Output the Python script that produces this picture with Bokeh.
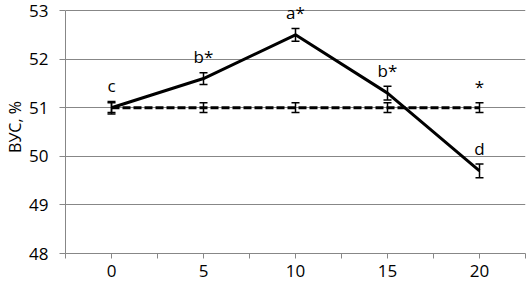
from bokeh.plotting import figure
from bokeh.models import (ColumnDataSource, Range1d, FixedTicker, CustomJSTickFormatter,
                          Whisker, TeeHead)
from bokeh.core.properties import value
from bokeh.embed import file_html
from bokeh.resources import INLINE

# ---- data ----
x_cats = [0, 5, 10, 15, 20]
treat_vals = [51.0, 51.6, 52.5, 51.3, 49.7]
treat_err = [0.13, 0.12, 0.13, 0.14, 0.14]
treat_labels = ["c", "b*", "a*", "b*", "d"]
ctrl_vals = [51.0, 51.0, 51.0, 51.0, 51.0]
ctrl_err = [0.1, 0.1, 0.1, 0.1, 0.1]
ctrl_labels = ["", "", "", "", "*"]
y_ticks = [48, 49, 50, 51, 52, 53]
y_title = "ВУС, %"

FONT = "Open Sans"
GRID = "#878787"

half = (x_cats[1] - x_cats[0]) / 2
x_ticks = sorted(set([v for v in x_cats] + [v - half for v in x_cats] + [x_cats[-1] + half]))

p = figure(width=526, height=287, output_backend="svg", toolbar_location=None,
           x_range=Range1d(x_cats[0] - half, x_cats[-1] + half),
           y_range=Range1d(y_ticks[0], y_ticks[-1] + 0.206),
           min_border_left=65, min_border_right=1, min_border_top=0, min_border_bottom=34)
p.outline_line_color = None
p.background_fill_color = "white"
p.border_fill_color = "white"

# axes
p.xaxis.ticker = FixedTicker(ticks=x_ticks)
p.xaxis.formatter = CustomJSTickFormatter(code="return (Math.abs(tick % 5) < 1e-9) ? String(tick) : '';")
p.yaxis.ticker = FixedTicker(ticks=y_ticks)
p.yaxis.bounds = (y_ticks[0], y_ticks[-1])
for ax in (p.xaxis, p.yaxis):
    ax.axis_line_color = GRID
    ax.axis_line_width = 1
    ax.major_tick_line_color = GRID
    ax.minor_tick_line_color = None
    ax.major_tick_in = 0
    ax.major_label_text_font = FONT
    ax.major_label_text_font_size = "17px"
    ax.major_label_text_color = "black"
p.xaxis.major_tick_out = 5
p.xaxis.major_label_standoff = 6
p.yaxis.major_tick_out = 6
p.yaxis.major_label_standoff = 11
p.yaxis.axis_label = y_title
p.yaxis.axis_label_text_font = FONT
p.yaxis.axis_label_text_font_size = "16px"
p.yaxis.axis_label_text_font_style = "normal"
p.yaxis.axis_label_text_color = "black"
p.yaxis.axis_label_standoff = 0

p.xgrid.grid_line_color = None
p.ygrid.ticker = FixedTicker(ticks=y_ticks[1:])
p.ygrid.grid_line_color = GRID
p.ygrid.grid_line_width = 1

src_t = ColumnDataSource(dict(
    x=x_cats, y=treat_vals,
    lo=[v - e for v, e in zip(treat_vals, treat_err)],
    hi=[v + e for v, e in zip(treat_vals, treat_err)],
    lab=treat_labels))
src_c = ColumnDataSource(dict(
    x=x_cats, y=ctrl_vals,
    lo=[v - e for v, e in zip(ctrl_vals, ctrl_err)],
    hi=[v + e for v, e in zip(ctrl_vals, ctrl_err)],
    lab=ctrl_labels))

p.line("x", "y", source=src_t, line_color="black", line_width=3)
p.line("x", "y", source=src_c, line_color="black", line_width=3, line_dash="8 3")

for src in (src_t, src_c):
    w = Whisker(source=src, base="x", lower="lo", upper="hi", dimension="height",
                line_color="black", line_width=1.5, level="overlay",
                upper_head=TeeHead(size=8, line_color="black", line_width=1.5),
                lower_head=TeeHead(size=8, line_color="black", line_width=1.5))
    p.add_layout(w)
    p.text("x", "hi", text="lab", source=src, text_align="center",
           text_baseline="alphabetic", y_offset=-16,
           text_font=value(FONT), text_font_size="17px", text_color="black")

open("out.html", "w").write(file_html(p, INLINE))
